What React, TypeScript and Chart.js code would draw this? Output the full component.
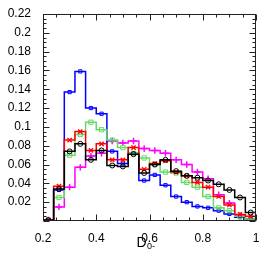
import { useEffect, useRef } from "react";
import { Chart, registerables } from "chart.js";
Chart.register(...registerables);

const binLow = [0.2, 0.24, 0.28, 0.32, 0.36, 0.4, 0.44, 0.48, 0.52, 0.56, 0.6, 0.64, 0.68, 0.72, 0.76, 0.8, 0.84, 0.88, 0.92, 0.96];
const binWidth = 0.04;
const blackVals = [0.001, 0.034, 0.074, 0.082, 0.065, 0.075, 0.059, 0.058, 0.071, 0.051, 0.06, 0.065, 0.053, 0.048, 0.046, 0.043, 0.039, 0.033, 0.025, 0.009];
const redVals = [0.001, 0.037, 0.086, 0.095, 0.075, 0.082, 0.065, 0.065, 0.078, 0.055, 0.061, 0.064, 0.052, 0.048, 0.041, 0.036, 0.026, 0.017, 0.007, 0.005];
const greenVals = [0.001, 0.025, 0.07, 0.092, 0.105, 0.097, 0.086, 0.078, 0.072, 0.067, 0.06, 0.052, 0.051, 0.041, 0.036, 0.026, 0.014, 0.011, 0.005, 0.002];
const blueVals = [0.001, 0.033, 0.137, 0.159, 0.12, 0.114, 0.074, 0.061, 0.072, 0.043, 0.049, 0.038, 0.026, 0.02, 0.0155, 0.014, 0.011, 0.0075, 0.004, 0.002];
const magentaVals = [0.001, 0.015, 0.036, 0.057, 0.069, 0.072, 0.085, 0.083, 0.085, 0.077, 0.075, 0.072, 0.065, 0.06, 0.052, 0.045, 0.028, 0.019, 0.006, 0.001];
const xTitle = "D";
const xTitleSub = "0-";

const FONT = "'Liberation Sans', Arial, Helvetica, sans-serif";
const fmt = (v: number) => String(parseFloat(Number(v).toFixed(2)));

export default function App() {
  const ref = useRef<HTMLCanvasElement>(null);
  useEffect(() => {
    document.body.style.margin = "0";
    const series = [
      { vals: blackVals, color: "#000000", style: "circle", r: 2.5, bw: 1 },
      { vals: redVals, color: "#ff0000", style: "crossRot", r: 3, bw: 1.3 },
      { vals: greenVals, color: "#66d966", style: "rect", r: 3, bw: 1 },
      { vals: blueVals, color: "#0000ff", style: "rect", r: 2.3, bw: 1 },
      { vals: magentaVals, color: "#ff00ff", style: "cross", r: 3.2, bw: 1.5 },
    ];
    const datasets: any[] = [];
    series.forEach((s) => {
      const n = s.vals.length;
      const pts: any[] = [{ x: binLow[0], y: 0 }];
      s.vals.forEach((v, i) => pts.push({ x: binLow[i], y: v }));
      pts.push({ x: binLow[n - 1] + binWidth, y: s.vals[n - 1] });
      pts.push({ x: binLow[n - 1] + binWidth, y: 0 });
      datasets.push({
        type: "line",
        data: pts,
        borderColor: s.color,
        borderWidth: 1.5,
        stepped: "before",
        pointRadius: 0,
        fill: false,
      });
      datasets.push({
        type: "line",
        data: s.vals.map((v, i) => ({ x: binLow[i] + binWidth / 2, y: v })),
        showLine: false,
        pointStyle: s.style,
        pointRadius: s.r,
        pointBorderWidth: s.bw,
        borderColor: s.color,
        backgroundColor: "rgba(0,0,0,0)",
      });
    });

    const framePlugin = {
      id: "rootFrame",
      afterDraw(chart: any) {
        const { ctx, chartArea, scales } = chart;
        const { left, right, top, bottom } = chartArea;
        const xs = scales.x;
        const ys = scales.y;
        ctx.save();
        ctx.strokeStyle = "#222";
        ctx.lineWidth = 1;
        const L = Math.round(left) + 0.5;
        const R = Math.round(right) - 0.5;
        const T = Math.round(top) + 0.5;
        const B = Math.round(bottom) - 0.5;
        ctx.strokeRect(L, T, R - L, B - T);
        ctx.beginPath();
        for (let k = 0; k <= 16; k++) {
          const v = 0.2 + k * 0.05;
          const len = k % 4 === 0 ? 6 : 3;
          const px = Math.round(xs.getPixelForValue(v)) + 0.5;
          ctx.moveTo(px, B);
          ctx.lineTo(px, B - len);
          ctx.moveTo(px, T);
          ctx.lineTo(px, T + len);
        }
        for (let k = 0; k <= 44; k++) {
          const v = k * 0.005;
          const len = k % 4 === 0 ? 6 : 3;
          const py = Math.round(ys.getPixelForValue(v)) + 0.5;
          ctx.moveTo(L, py);
          ctx.lineTo(L + len, py);
          ctx.moveTo(R, py);
          ctx.lineTo(R - len, py);
        }
        ctx.stroke();
        // axis title with subscript
        ctx.fillStyle = "#000";
        ctx.textBaseline = "alphabetic";
        ctx.textAlign = "left";
        ctx.font = `14px ${FONT}`;
        const cx = (left + right) / 2;
        const wD = ctx.measureText(xTitle).width;
        ctx.font = `9px ${FONT}`;
        const wS = ctx.measureText(xTitleSub).width;
        const x0 = cx - (wD + wS) / 2 - 4;
        ctx.font = `14px ${FONT}`;
        ctx.fillText(xTitle, x0, 247);
        ctx.font = `9px ${FONT}`;
        ctx.fillText(xTitleSub, x0 + wD + 0.5, 249);
        ctx.restore();
      },
    };

    const chart = new Chart(ref.current as HTMLCanvasElement, {
      type: "line",
      data: { datasets },
      options: {
        responsive: false,
        animation: false,
        devicePixelRatio: 1,
        layout: { padding: { top: 14, right: 10, left: 0, bottom: 0 } },
        plugins: { legend: { display: false }, tooltip: { enabled: false } },
        scales: {
          x: {
            type: "linear",
            min: 0.2,
            max: 1,
            afterFit: (s: any) => {
              s.height = 34;
            },
            grid: { display: false },
            border: { display: false },
            ticks: {
              stepSize: 0.2,
              padding: 2,
              autoSkip: false,
              maxRotation: 0,
              color: "#000",
              font: { family: FONT, size: 12 },
              callback: (v: any) => fmt(v),
            },
          },
          y: {
            type: "linear",
            min: 0,
            max: 0.22,
            afterFit: (s: any) => {
              s.width = 43;
            },
            grid: { display: false },
            border: { display: false },
            ticks: {
              stepSize: 0.02,
              padding: 4,
              autoSkip: false,
              color: "#000",
              font: { family: FONT, size: 12 },
              callback: (v: any) => (Math.abs(v) < 1e-9 ? "" : fmt(v)),
            },
          },
        },
      } as any,
      plugins: [framePlugin],
    });
    return () => chart.destroy();
  }, []);
  return (
    <div style={{ width: 266, height: 255 }}>
      <canvas ref={ref} width={266} height={255} style={{ display: "block" }} />
    </div>
  );
}
